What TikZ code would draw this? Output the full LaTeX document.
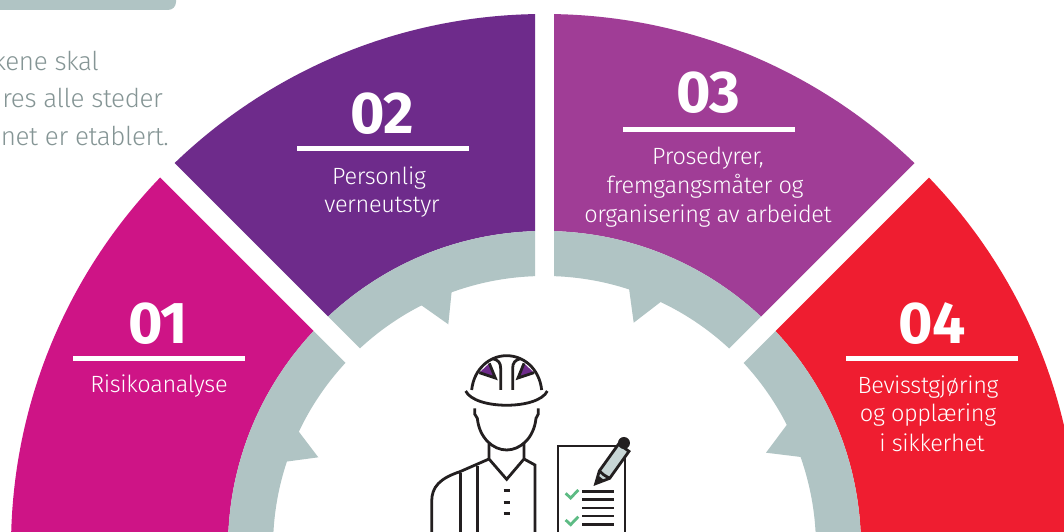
\documentclass[tikz,border=0pt]{standalone}
\usepackage{fontspec}
\setmainfont[LetterSpace=-1.5]{Fira Sans Light}
\newfontfamily\numfont[LetterSpace=-1]{Fira Sans Bold}
\definecolor{cmag}{HTML}{CE1486}
\definecolor{cpur}{HTML}{6E2B8B}
\definecolor{cvio}{HTML}{A03D96}
\definecolor{cred}{HTML}{EF1D30}
\definecolor{cring}{HTML}{B0C4C4}
\definecolor{ctxt}{HTML}{859595}
\definecolor{cink}{HTML}{231F20}
\definecolor{cgrn}{HTML}{5DBB84}
\newcommand\sector[2]{%
  \begin{scope}[shift={(544.5,547.5)}]
    \clip #2;
    \fill[#1,even odd rule] (0,0) circle[radius=533.5] (0,0) circle[radius=316.5];
    \fill[cring,even odd rule] (0,0) circle[radius=316.5] (0,0) circle[radius=271.5];
  \end{scope}}
\tikzset{
  numlabel/.style={font=\numfont\fontsize{59}{59}\selectfont,text=white,anchor=base,inner sep=0pt},
  seclabel/.style={font=\fontsize{23.5}{28}\selectfont,text=white,anchor=base,inner sep=0pt},
  sidetext/.style={font=\fontsize{26}{28}\selectfont,text=ctxt,anchor=base east,inner sep=0pt},
  rulebar/.style={white,line width=5pt},
  ink/.style={draw=cink,line width=2.8pt,line join=miter},
  tooth/.style={fill=cring},
  check/.style={draw=cgrn,line width=2.8pt}
}
\begin{document}
\begin{tikzpicture}[x=1pt,y=-1pt]
\useasboundingbox (0,0) rectangle (1064,532);
\fill[white] (0,0) rectangle (1064,532);
\clip (0,0) rectangle (1064,532);
% top-left bar
\fill[cring,rounded corners=8pt] (-20,-20) rectangle (176,10);
\node[sidetext] (t1) at (99,71) {kene skal};
\node[sidetext] (t2) at (163,108) {res alle steder};
\node[sidetext] (t3) at (169,145) {net er etablert.};
% sectors
\sector{cmag}{(-600,-585.5) -- (-14.5,0) -- (-14.5,10) -- (-600,10) -- cycle}
\sector{cpur}{(-9.5,-24) -- (-9.5,-620) -- (-605.5,-620) -- cycle}
\sector{cvio}{(9.5,-24) -- (9.5,-620) -- (605.5,-620) -- cycle}
\sector{cred}{(14.5,0) -- (600,-585.5) -- (600,10) -- (14.5,10) -- cycle}
% teeth
\fill[tooth] (451.7,291) -- (448.3,324.3) -- (421,305) -- (436,285) -- cycle;
\fill[tooth] (298.3,431) -- (318.3,457.3) -- (285.7,461.7) -- (280,445) -- cycle;
\fill[tooth] (629,288.3) -- (633.7,322.7) -- (661,301.7) -- (650,285) -- cycle;
\fill[tooth] (786.7,425) -- (766,452.7) -- (801,457) -- (808,440) -- cycle;
% numbers and rules
\node[numlabel] (n1) at (158,343) {01};
\node[numlabel] (n2) at (382,133) {02};
\node[numlabel] (n3) at (708,113) {03};
\node[numlabel] (n4) at (932,343) {04};
\draw[rulebar] (73,358) -- (245,358);
\draw[rulebar] (297,148) -- (469,148);
\draw[rulebar] (623,129) -- (795,129);
\draw[rulebar] (846,358) -- (1018,358);
% labels
\node[seclabel] (l1) at (159,392) {Risikoanalyse};
\node[seclabel] (l2a) at (379,184) {Personlig};
\node[seclabel] (l2b) at (382,212) {verneutstyr};
\node[seclabel] (l3a) at (708,164) {Prosedyrer,};
\node[seclabel] (l3b) at (705,193) {fremgangsmåter og};
\node[seclabel] (l3c) at (708,222) {organisering av arbeidet};
\node[seclabel] (l4a) at (928,393) {Bevisstgjøring};
\node[seclabel] (l4b) at (928,421) {og opplæring};
\node[seclabel] (l4c) at (932,451) {i sikkerhet};
% worker and checklist (coordinates in 3x zoom units)
\begin{scope}[shift={(400,340)},x=0.3333pt,y=-0.3333pt]
  % helmet
  \fill[cpur] (268,70) -- (238,98) -- (286,114) -- cycle;
  \fill[cpur] (372,70) -- (402,98) -- (354,114) -- cycle;
  \draw[ink] (215,150) .. controls (222,85) and (270,47) .. (320,47) .. controls (370,47) and (418,85) .. (425,150);
  \draw[ink] (197,153) .. controls (225,210) and (415,210) .. (442,153);
  \draw[ink] (302,150) -- (302,85) .. controls (302,68) and (295,60) .. (278,56);
  \draw[ink] (338,150) -- (338,85) .. controls (338,68) and (345,60) .. (362,56);
  \draw[ink] (268,70) -- (286,114) -- (238,98);
  \draw[ink] (372,70) -- (354,114) -- (402,98);
  % face
  \draw[ink] (224,205) -- (224,222) -- (232,235) .. controls (238,295) and (280,330) .. (320,330) .. controls (360,330) and (402,295) .. (408,235) -- (415,222) -- (415,205);
  \draw[ink] (267,310) -- (267,357) -- (320,418) -- (372,357) -- (372,310);
  % body
  \draw[ink] (372,357) -- (405,375) -- (405,590);
  \draw[ink] (267,357) -- (180,395) .. controls (120,415) and (95,440) .. (95,485) -- (95,590);
  \draw[ink] (182,400) -- (182,590);
  \draw[ink] (233,377) -- (233,590);
  \draw[ink] (311,452) -- (329,452);
  \draw[ink] (311,487) -- (329,487);
  \draw[ink] (311,521) -- (329,521);
  % checklist
  \draw[ink] (474,590) -- (474,318) -- (675,318) -- (675,590);
  \foreach \yy in {454,479,504,528,553} \draw[ink] (547,\yy) -- (642,\yy);
  \draw[check] (497,460) -- (512,474) -- (535,450);
  \draw[check] (497,540) -- (512,554) -- (535,530);
  % pencil
  \draw[ink,fill=cring!70!white] (587,431) -- (598,393) -- (656,312) -- (687,334) -- (629,415) -- cycle;
  \fill[cink] (587,431) -- (594,406) -- (612,420) -- cycle;
  \fill[cink] (672,309) circle[radius=18];
  \draw[ink] (598,393) -- (612,405) -- (629,415);
\end{scope}
\end{tikzpicture}
\end{document}
